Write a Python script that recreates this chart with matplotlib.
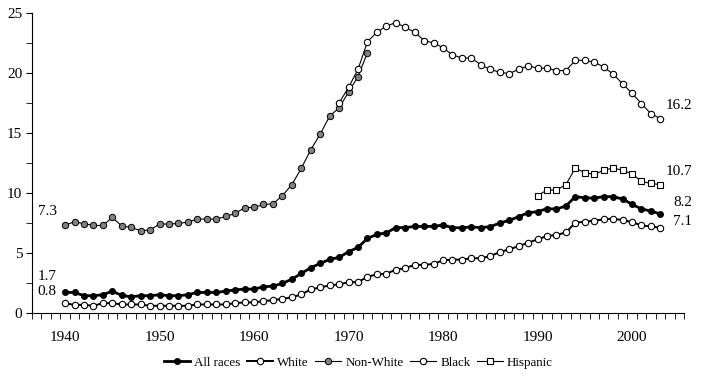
import numpy as np
import matplotlib
matplotlib.use("Agg")
import matplotlib.pyplot as plt

plt.rcParams['font.family'] = ['Liberation Serif', 'DejaVu Serif']

# rates by year
years_all = list(range(1940, 2004))
all_races = [1.72, 1.72, 1.45, 1.45, 1.53, 1.83, 1.47, 1.36, 1.45, 1.45,
             1.53, 1.45, 1.45, 1.53, 1.72, 1.72, 1.72, 1.83, 1.94, 2.0,
             2.0, 2.19, 2.25, 2.47, 2.83, 3.3, 3.78, 4.14, 4.47, 4.64,
             5.11, 5.47, 6.22, 6.56, 6.69, 7.12, 7.12, 7.22, 7.22, 7.22,
             7.34, 7.11, 7.11, 7.18, 7.12, 7.2, 7.5, 7.72, 8.03, 8.36,
             8.45, 8.7, 8.67, 8.92, 9.7, 9.6, 9.58, 9.7, 9.7, 9.5,
             9.06, 8.67, 8.5, 8.25]
white = [0.81, 0.69, 0.69, 0.61, 0.83, 0.83, 0.72, 0.72, 0.72, 0.61,
         0.61, 0.61, 0.61, 0.61, 0.72, 0.72, 0.72, 0.72, 0.83, 0.89,
         0.89, 1.0, 1.08, 1.19, 1.31, 1.56, 1.97, 2.14, 2.31, 2.39,
         2.58, 2.58, 3.03, 3.22, 3.28, 3.62, 3.75, 4.02, 4.02, 4.1,
         4.4, 4.45, 4.46, 4.57, 4.57, 4.75, 5.08, 5.31, 5.58, 5.86,
         6.14, 6.42, 6.5, 6.72, 7.53, 7.61, 7.7, 7.8, 7.86, 7.75,
         7.58, 7.3, 7.22, 7.11]

years_nonwhite = list(range(1940, 1973))
non_white = [7.33, 7.6, 7.45, 7.3, 7.3, 7.97, 7.25, 7.14, 6.86, 6.92,
             7.42, 7.42, 7.47, 7.58, 7.83, 7.83, 7.83, 8.05, 8.3, 8.78,
             8.8, 9.05, 9.1, 9.78, 10.7, 12.06, 13.6, 14.9, 16.4, 17.1,
             18.4, 19.7, 21.7]

years_black = list(range(1969, 2004))
black = [17.5, 18.8, 20.3, 22.6, 23.4, 23.9, 24.2, 23.8, 23.4, 22.7,
         22.5, 22.1, 21.5, 21.25, 21.25, 20.67, 20.3, 20.05, 19.95, 20.3,
         20.6, 20.4, 20.4, 20.2, 20.2, 21.05, 21.05, 20.9, 20.5, 19.9,
         19.1, 18.3, 17.45, 16.6, 16.2]

years_hispanic = list(range(1990, 2004))
hispanic = [9.78, 10.25, 10.25, 10.7, 12.08, 11.7, 11.55, 11.9, 12.08, 11.9,
            11.6, 10.97, 10.8, 10.7]

fig = plt.figure(figsize=(7.17, 3.8), dpi=100)
ax = fig.add_axes([0.0446, 0.176, 0.9094, 0.79])

ax.plot(years_nonwhite, non_white, color='black', lw=0.8, marker='o', ms=4.6,
        mfc='#808080', mec='black', mew=0.7, label='Non-White')
ax.plot(years_black, black, color='black', lw=0.8, marker='o', ms=4.6,
        mfc='white', mec='black', mew=0.8, label='Black')
ax.plot(years_hispanic, hispanic, color='black', lw=0.8, marker='s', ms=4.3,
        mfc='white', mec='black', mew=0.8, label='Hispanic')
ax.plot(years_all, white, color='black', lw=1.4, marker='o', ms=4.6,
        mfc='white', mec='black', mew=0.8, label='White')
ax.plot(years_all, all_races, color='black', lw=2.0, marker='o', ms=4.0,
        mfc='black', mec='black', label='All races')

# end labels
ax.text(1938.1, non_white[0] + 1.1, '7.3', fontsize=11, ha='center', va='center')
ax.text(1938.1, all_races[0] + 1.36, '1.7', fontsize=11, ha='center', va='center')
ax.text(1938.1, white[0] + 0.95, '0.8', fontsize=11, ha='center', va='center')
ax.text(2006.35, black[-1] + 1.05, '16.2', fontsize=11, ha='right', va='center')
ax.text(2006.35, hispanic[-1] + 1.13, '10.7', fontsize=11, ha='right', va='center')
ax.text(2006.35, all_races[-1] + 1.0, '8.2', fontsize=11, ha='right', va='center')
ax.text(2006.35, white[-1] + 0.56, '7.1', fontsize=11, ha='right', va='center')

ax.set_xlim(1936.5, 2005.5)
ax.set_ylim(0, 25)
ax.spines['top'].set_visible(False)
ax.spines['right'].set_visible(False)

ax.set_xticks(np.arange(1940, 2001, 10))
ax.set_xticks(np.arange(1936.5, 2005.6, 1), minor=True)
ax.tick_params(axis='x', which='major', length=0, pad=13, labelsize=11)
ax.tick_params(axis='x', which='minor', length=4, direction='out')
ax.set_yticks(np.arange(0, 26, 5))
ax.set_yticks(np.arange(0, 25.1, 2.5), minor=True)
ax.tick_params(axis='y', which='both', length=4, direction='out', pad=3, labelsize=11)

handles, labels = ax.get_legend_handles_labels()
order = [4, 3, 0, 1, 2]
fig.legend([handles[i] for i in order], [labels[i] for i in order],
           loc='center', bbox_to_anchor=(0.5, 0.045), ncol=5, frameon=False,
           fontsize=9.4, handlelength=2.0, handletextpad=0.3, columnspacing=0.5,
           borderpad=0)

fig.savefig('out.png', dpi=100)
